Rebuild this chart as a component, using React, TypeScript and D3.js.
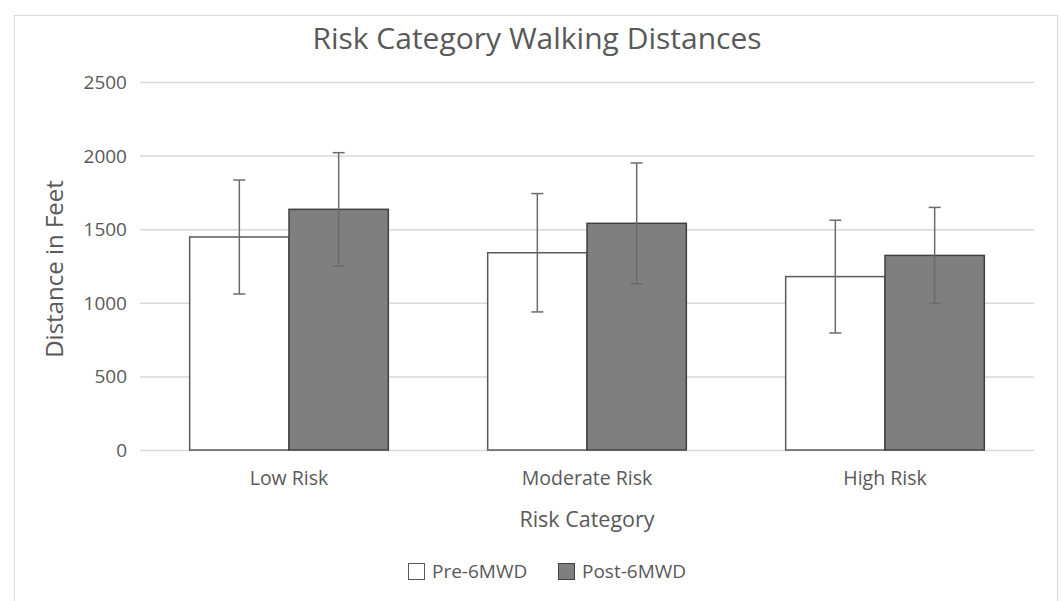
import React from "react";
import * as d3 from "d3";

const categories = ["Low Risk", "Moderate Risk", "High Risk"];
const seriesNames = ["Pre-6MWD", "Post-6MWD"];
const preMeans = [1447, 1340, 1178];
const preSD = [387, 402, 383];
const postMeans = [1635, 1540, 1322];
const postSD = [385, 410, 326];
const yTicks = [0, 500, 1000, 1500, 2000, 2500];

const W = 1061, H = 601;
const left = 140, right = 1034, top = 82, bottom = 450;
const font = "'Open Sans', sans-serif";
const textColor = "#595959";

export default function App() {
  const x0 = d3.scaleBand<string>().domain(categories).range([left, right]).paddingInner(1 / 3).paddingOuter(1 / 6);
  const x1 = d3.scaleBand<string>().domain(seriesNames).range([0, x0.bandwidth()]);
  const y = d3.scaleLinear().domain([0, 2500]).range([bottom, top]);
  const fills = ["#ffffff", "#7f7f7f"];
  const strokes = ["#595959", "#404040"];
  const series = [
    { name: seriesNames[0], means: preMeans, sd: preSD },
    { name: seriesNames[1], means: postMeans, sd: postSD },
  ];
  return (
    <svg width={W} height={H} style={{ position: "absolute", left: 0, top: 0, background: "#fff" }}>
      <rect x={14.5} y={15.5} width={1043} height={600} fill="#fff" stroke="#d9d9d9" />
      <text x={537} y={49} textAnchor="middle" fontFamily={font} fontSize={30} fill={textColor}>
        Risk Category Walking Distances
      </text>
      {yTicks.map((t) => (
        <g key={t}>
          <line x1={left} x2={right} y1={y(t) + 0.5} y2={y(t) + 0.5} stroke="#d9d9d9" strokeWidth={1.5} />
          <text x={127} y={y(t) + 7} textAnchor="end" fontFamily={font} fontSize={19} fill={textColor}>
            {t}
          </text>
        </g>
      ))}
      {series.map((s, si) =>
        categories.map((c, ci) => {
          const bx = (x0(c) as number) + (x1(s.name) as number);
          const bw = x1.bandwidth();
          const v = s.means[ci];
          const cx = bx + bw / 2;
          return (
            <g key={s.name + c}>
              <rect x={bx} y={y(v)} width={bw} height={y(0) - y(v)} fill={fills[si]} stroke={strokes[si]} strokeWidth={1.5} />
              <line x1={cx} x2={cx} y1={y(v + s.sd[ci])} y2={y(v - s.sd[ci])} stroke="#6b6b6b" strokeWidth={1.5} />
              <line x1={cx - 6} x2={cx + 6} y1={y(v + s.sd[ci])} y2={y(v + s.sd[ci])} stroke="#6b6b6b" strokeWidth={1.5} />
              <line x1={cx - 6} x2={cx + 6} y1={y(v - s.sd[ci])} y2={y(v - s.sd[ci])} stroke="#6b6b6b" strokeWidth={1.5} />
            </g>
          );
        })
      )}
      {categories.map((c) => (
        <text key={c} x={(x0(c) as number) + x0.bandwidth() / 2} y={485} textAnchor="middle" fontFamily={font} fontSize={19.5} fill={textColor}>
          {c}
        </text>
      ))}
      <text x={587} y={527} textAnchor="middle" fontFamily={font} fontSize={21.5} fill={textColor}>
        Risk Category
      </text>
      <text transform={`translate(63,269) rotate(-90)`} textAnchor="middle" fontFamily={font} fontSize={24} fill={textColor}>
        Distance in Feet
      </text>
      <g>
        <rect x={408.5} y={563.5} width={16} height={16} fill={fills[0]} stroke={strokes[0]} />
        <text x={432} y={578} fontFamily={font} fontSize={19} fill={textColor}>{seriesNames[0]}</text>
        <rect x={558.5} y={563.5} width={16} height={16} fill={fills[1]} stroke={strokes[1]} />
        <text x={582} y={578} fontFamily={font} fontSize={19} fill={textColor}>{seriesNames[1]}</text>
      </g>
    </svg>
  );
}
